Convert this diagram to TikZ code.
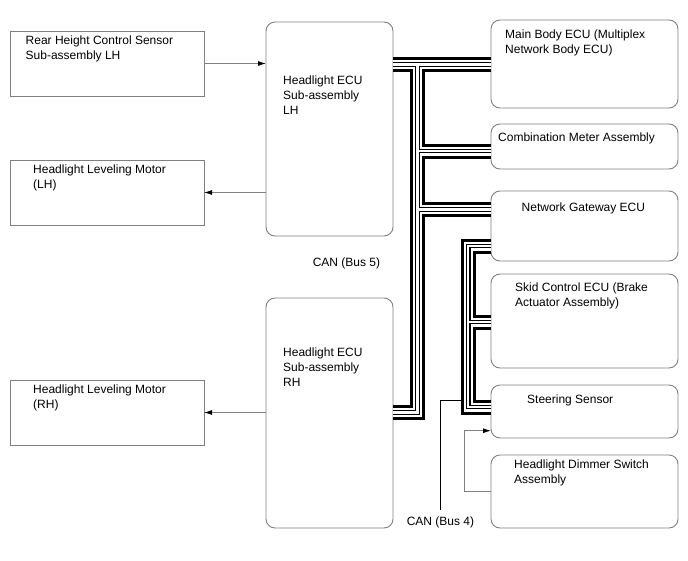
\documentclass[tikz,border=0pt]{standalone}
\usepackage{fontspec}
\setmainfont{Liberation Sans}
\usetikzlibrary{arrows.meta,calc}
\definecolor{boxgray}{RGB}{128,128,128}
\newcommand\canbus[1]{%
  \draw[black, line width=15pt] #1;
  \draw[white, line width=9pt] #1;
  \draw[black, line width=4.4pt] #1;
  \draw[white, line width=2.2pt] #1;}
\begin{document}
\begin{tikzpicture}[x=1pt,y=-1pt,
  box/.style={draw=boxgray, line width=0.9pt, anchor=north west, inner sep=0pt, outer sep=0pt},
  rbox/.style={box, rounded corners=9pt},
  txt/.style={anchor=base west, inner sep=0pt, font=\fontsize{12}{14}\selectfont},
  ctxt/.style={txt, anchor=base},
  sig/.style={draw=boxgray, line width=0.9pt, -{Latex[length=8pt,width=5pt,color=black]}},
  lead/.style={draw=black, line width=0.9pt}]
\useasboundingbox (0,0) rectangle (688,560);

% ---- boxes ----
\node[box, minimum width=194pt, minimum height=65pt] (rhcs) at (10,31) {};
\node[box, minimum width=194pt, minimum height=65pt] (hlml) at (10,160) {};
\node[box, minimum width=194pt, minimum height=65pt] (hlmr) at (10,380) {};
\node[rbox, minimum width=127pt, minimum height=214pt] (ecul) at (266,22) {};
\node[rbox, minimum width=127pt, minimum height=230pt] (ecur) at (266,298) {};
\node[rbox, minimum width=187pt, minimum height=88pt] (mbe) at (491,20) {};
\node[rbox, minimum width=187pt, minimum height=45pt] (cma) at (491,124) {};
\node[rbox, minimum width=187pt, minimum height=70pt] (nge) at (491,191) {};
\node[rbox, minimum width=187pt, minimum height=94pt] (sce) at (491,274) {};
\node[rbox, minimum width=187pt, minimum height=53pt] (ss) at (491,385) {};
\node[rbox, minimum width=187pt, minimum height=73pt] (hds) at (491,455) {};

% ---- bus coordinates ----
\coordinate (b5top) at (417.5,64.5);
\coordinate (b5cm) at (417.5,151);
\coordinate (b5ng) at (417.5,209.5);
\coordinate (b5bot) at (417.5,412.5);
\coordinate (b4top) at (468.3,246);
\coordinate (b4sc) at (468.3,322);
\coordinate (b4bot) at (468.3,407);

% CAN bus 5
\canbus{(b5top -| ecul.east) -- (b5top -| mbe.west)
  (b5top) -- (b5bot) -- (b5bot -| ecur.east)
  (b5cm) -- (b5cm -| cma.west)
  (b5ng) -- (b5ng -| nge.west)}
% CAN bus 4
\canbus{(b4top -| nge.west) -- (b4top) -- (b4bot) -- (b4bot -| ss.west)
  (b4sc) -- (b4sc -| sce.west)}

% ---- signal arrows ----
\draw[sig] (rhcs.east) -- (rhcs.east -| ecul.west);
\draw[sig] (hlml.east -| ecul.west) -- (hlml.east);
\draw[sig] (hlmr.east -| ecur.west) -- (hlmr.east);
\coordinate (dimturn) at (464.3,430.7);
\draw[sig] (hds.west) -| (dimturn) -- (dimturn -| ss.west);

% ---- texts ----
\node[txt] (t1a) at (25.5,44.5) {Rear Height Control Sensor};
\node[txt] (t1b) at (25.5,59) {Sub-assembly LH};
\node[txt] (t2a) at (33,173.5) {Headlight Leveling Motor};
\node[txt] (t2b) at (33,188) {(LH)};
\node[txt] (t3a) at (33,393.5) {Headlight Leveling Motor};
\node[txt] (t3b) at (33,408) {(RH)};
\node[txt] (t4a) at (283,84) {Headlight ECU};
\node[txt] (t4b) at (283,99) {Sub-assembly};
\node[txt] (t4c) at (283,114) {LH};
\node[txt] (t5a) at (283,356) {Headlight ECU};
\node[txt] (t5b) at (283,371) {Sub-assembly};
\node[txt] (t5c) at (283,386) {RH};
\node[txt] (t6a) at (505,38) {Main Body ECU (Multiplex};
\node[txt] (t6b) at (505,53) {Network Body ECU)};
\node[txt] (t7) at (498,141.5) {Combination Meter Assembly};
\node[txt] (t8) at (521.5,211) {Network Gateway ECU};
\node[txt] (t9a) at (515,291.5) {Skid Control ECU (Brake};
\node[txt] (t9b) at (515,306) {Actuator Assembly)};
\node[txt] (t10) at (527,403.5) {Steering Sensor};
\node[txt] (t11a) at (514,468.5) {Headlight Dimmer Switch};
\node[txt] (t11b) at (514,483.5) {Assembly};
\node[ctxt] (can5) at (346.5,266.5) {CAN (Bus 5)};
\node[ctxt] (can4) at (440.5,525.5) {CAN (Bus 4)};

% ---- leader for CAN (Bus 4) ----
\coordinate (can4lead) at (440,510);
\draw[lead] (can4lead) |- ($(b4bot)+(-7.5,-6.5)$);
\end{tikzpicture}
\end{document}
